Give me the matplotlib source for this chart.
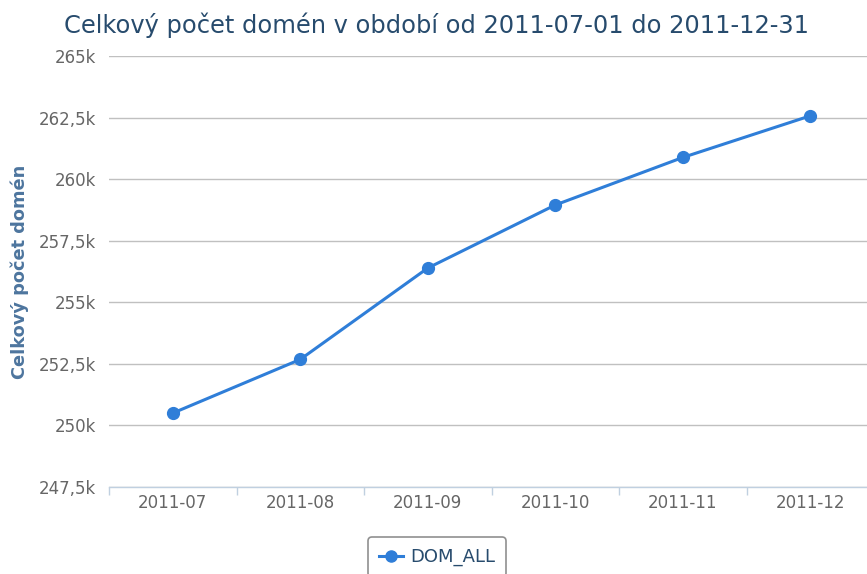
"""Celkový počet domén – měsíční vývoj (2011-07 až 2011-12)."""
import matplotlib
matplotlib.use("Agg")
import matplotlib.pyplot as plt
from matplotlib.ticker import FuncFormatter, FixedLocator
from matplotlib.lines import Line2D

# data
mesice = ["2011-07", "2011-08", "2011-09", "2011-10", "2011-11", "2011-12"]
dom_all = [250500, 252680, 256390, 258950, 260880, 262570]
y_ticks = [247500, 250000, 252500, 255000, 257500, 260000, 262500, 265000]

MODRA, TITUL, POPIS, OSA_Y = "#2f7ed8", "#274b6d", "#666666", "#4d759e"
MRIZKA, OSA = "#c0c0c0", "#c0d0e0"

plt.rcParams["font.family"] = ["DejaVu Sans"]

W, H = 867, 574
L, SIRKA = 109, 765   # plocha grafu přesahuje pravý okraj obrázku
fig = plt.figure(figsize=(W / 100, H / 100), dpi=100)
ax = fig.add_axes([L / W, 1 - 487 / H, SIRKA / W, (487 - 56) / H])

x = list(range(len(mesice)))
ax.plot(x, dom_all, color=MODRA, lw=2.2, marker="o", ms=8.5, zorder=3, clip_on=False)

ax.set_ylim(y_ticks[0], y_ticks[-1])
ax.set_xlim(-0.5, len(mesice) - 0.5)
ax.yaxis.set_major_locator(FixedLocator(y_ticks))


def fmt(v, _):
    s = f"{v / 1000:g}".replace(".", ",")
    return s + "k"


ax.yaxis.set_major_formatter(FuncFormatter(fmt))
ax.grid(True, axis="y", color=MRIZKA, lw=1)
ax.set_axisbelow(True)
for s in ("top", "right", "left"):
    ax.spines[s].set_visible(False)
ax.spines["bottom"].set_color(OSA)
ax.spines["bottom"].set_linewidth(1)

# popisky kategorií uprostřed, značky na hranicích
ax.set_xticks([i - 0.5 for i in range(len(mesice) + 1)])
ax.set_xticklabels([])
ax.set_xticks(x, minor=True)
ax.set_xticklabels(mesice, minor=True)
ax.tick_params(axis="x", which="major", length=6, color=OSA, width=1)
ax.tick_params(axis="x", which="minor", length=0, pad=5, labelsize=12, labelcolor=POPIS)
ax.tick_params(axis="y", length=0, pad=9, labelsize=12, labelcolor=POPIS)

ax.set_ylabel("Celkový počet domén", fontsize=12.8, fontweight="bold", color=OSA_Y)
ax.yaxis.set_label_coords((29 - L) / SIRKA, 0.5)

fig.text(436 / W, 1 - 25 / H, "Celkový počet domén v období od 2011-07-01 do 2011-12-31",
         ha="center", va="center", fontsize=17.4, color=TITUL)

h = Line2D([], [], color=MODRA, lw=2.2, marker="o", ms=8)
leg = fig.legend([h], ["DOM_ALL"], loc="upper center",
                 bbox_to_anchor=(437 / W, 1 - 537 / H), frameon=True, fancybox=True,
                 fontsize=13, handlelength=1.3, handletextpad=0.4, borderpad=0.6,
                 borderaxespad=0, labelcolor=TITUL, edgecolor="#909090", framealpha=1)
leg.get_frame().set_linewidth(1.2)

fig.savefig("out.png", dpi=100)
